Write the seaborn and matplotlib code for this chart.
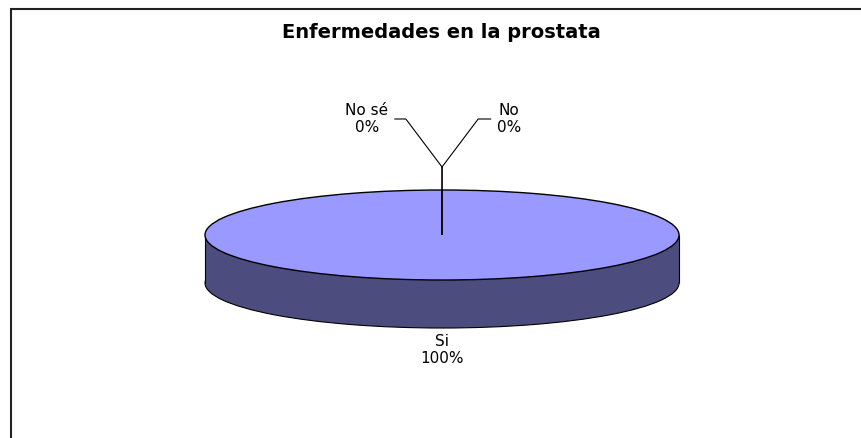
"""3D-style pie: Enfermedades en la prostata."""

import numpy as np
import matplotlib
matplotlib.use("Agg")
import matplotlib.pyplot as plt
from matplotlib.patches import Rectangle
from matplotlib.transforms import offset_copy
import seaborn as sns

# Data
labels = ["Si", "No", "No sé"]
values = [100, 0, 0]
title = "Enfermedades en la prostata"

TOP_COLOR = "#9999FF"
SIDE_COLOR = "#4C4C7E"

sns.set_style("white")
plt.rcParams["font.family"] = ["DejaVu Sans"]
plt.rcParams["text.color"] = "black"

fig = plt.figure(figsize=(8.62, 4.38), dpi=100)
ax = fig.add_axes([0, 0, 1, 1])

depth = 1.067
total = sum(values)
pcts = [f"{v / total * 100:.0f}%" for v in values]

# Side of the cylinder: bottom pie + band
ax.pie(values, colors=[SIDE_COLOR] * len(values), startangle=90, counterclock=False,
       center=(0, -depth), radius=1, frame=False,
       wedgeprops=dict(edgecolor="black", linewidth=0.8, zorder=1))
ax.add_patch(Rectangle((-1, -depth), 2, depth, facecolor=SIDE_COLOR,
                       edgecolor="none", zorder=2))
ax.vlines([-1, 1], -depth, 0, color="black", linewidth=0.8, zorder=2)

# Top face
wedges, _ = ax.pie(values, colors=[TOP_COLOR] * len(values), startangle=90,
                   counterclock=False, center=(0, 0), radius=1, frame=False,
                   wedgeprops=dict(edgecolor="black", linewidth=1.0, zorder=3))

ax.set_aspect("auto")
ax.set_xlim(-1.865, 1.772)
ax.set_ylim(-4.511, 5.222)
ax.axis("off")

# Labels
for w, lab, pct in zip(wedges, labels, pcts):
    mid = np.deg2rad((w.theta1 + w.theta2) / 2)
    if lab == "Si":
        ax.annotate(f"{lab}\n{pct}", xy=(np.cos(mid), np.sin(mid) - depth),
                    xytext=(0, -6), textcoords="offset pixels",
                    ha="center", va="top", fontsize=11, zorder=5)

# zero slices: leader lines from top of the pie
top_pt = (np.cos(np.deg2rad(wedges[1].theta1)), np.sin(np.deg2rad(wedges[1].theta1)))
joint = offset_copy(ax.transData, fig=fig, x=0, y=23, units="dots")
ax.annotate("", xy=top_pt, xytext=top_pt, textcoords=joint,
            arrowprops=dict(arrowstyle="-", color="black", lw=1.2,
                            shrinkA=0, shrinkB=0), zorder=5)
for lab, pct, dx, ang in [("No", pcts[1], 67, 53), ("No sé", pcts[2], -75, -53)]:
    ax.annotate(f"{lab}\n{pct}", xy=top_pt, xycoords=joint,
                xytext=(dx, 48), textcoords="offset pixels",
                ha="center", va="center", fontsize=11,
                arrowprops=dict(arrowstyle="-", color="black", lw=0.8,
                                shrinkA=2, shrinkB=0,
                                connectionstyle=f"angle,angleA=0,angleB={ang},rad=0"),
                zorder=5)

fig.text(441.5 / 862, 1 - 32 / 438, title, ha="center", va="center",
         fontsize=14, fontweight="bold", color="black")

# outer chart frame (cropped at right and bottom)
fig.patches.append(Rectangle((10.5, -20), 900, 429.5 + 20, transform=None,
                             fill=False, edgecolor="#222222", linewidth=1.5))

fig.savefig("out.png", dpi=100)
